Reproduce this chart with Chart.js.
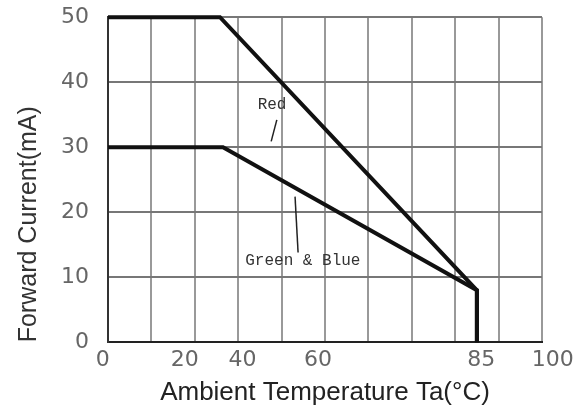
<!DOCTYPE html>
<html>
<head>
<meta charset="utf-8">
<script src="https://cdn.jsdelivr.net/npm/chart.js@4/dist/chart.umd.min.js"></script>
<style>
  html, body { margin: 0; padding: 0; background: #fff; }
  #wrap { width: 587px; height: 412px; }
</style>
</head>
<body>
<div id="wrap"><canvas id="derating"></canvas></div>
<script>
// derating curves (ambient temp in C, forward current in mA)
const redTemp = [0, 25.8, 85, 85];
const redCurrent = [50, 50, 8, 0];
const gbTemp = [0, 26.5, 85, 85];
const gbCurrent = [30, 30, 8, 0];

// x labels as printed in the source (they sit a bit off the grid there)
const xLabels = ['0', '20', '40', '60', '85', '100'];
const xLabelAt = [-1.2, 17.7, 31, 48.4, 86, 102.5];

// callout text + leader lines
const noteText = ['Red', 'Green & Blue'];
const noteTemp = [37.8, 44.9];
const noteCurrent = [36.5, 12.6];
const redLeaderTemp = [38.9, 37.6];
const redLeaderCurrent = [34.2, 30.9];
const gbLeaderTemp = [43.1, 43.8];
const gbLeaderCurrent = [22.4, 13.8];

const pts = (xs, ys) => xs.map((x, i) => ({ x: x, y: ys[i] }));

const notesPlugin = {
  id: 'notes',
  afterDatasetsDraw(chart) {
    const c = chart.ctx;
    const sx = chart.scales.x, sy = chart.scales.y;
    c.save();
    c.font = '16px "Liberation Mono"';
    c.fillStyle = '#333';
    c.textAlign = 'center';
    c.textBaseline = 'middle';
    noteText.forEach((t, i) => {
      c.fillText(t, sx.getPixelForValue(noteTemp[i]), sy.getPixelForValue(noteCurrent[i]));
    });
    c.restore();
  }
};

const ctx = document.getElementById('derating').getContext('2d');
const derating = new Chart(ctx, {
  type: 'scatter',
  data: {
    datasets: [
      {
        label: 'Red',
        data: pts(redTemp, redCurrent),
        showLine: true,
        borderColor: '#111',
        borderWidth: 4,
        pointRadius: 0,
        clip: false
      },
      {
        label: 'Green & Blue',
        data: pts(gbTemp, gbCurrent),
        showLine: true,
        borderColor: '#111',
        borderWidth: 4,
        pointRadius: 0,
        clip: false
      },
      {
        label: 'red leader',
        data: pts(redLeaderTemp, redLeaderCurrent),
        showLine: true,
        borderColor: '#222',
        borderWidth: 1.5,
        pointRadius: 0
      },
      {
        label: 'gb leader',
        data: pts(gbLeaderTemp, gbLeaderCurrent),
        showLine: true,
        borderColor: '#222',
        borderWidth: 1.5,
        pointRadius: 0
      }
    ]
  },
  options: {
    responsive: true,
    maintainAspectRatio: false,
    animation: false,
    layout: {
      padding: { left: 14, right: 45, top: 2, bottom: 6 }
    },
    plugins: {
      legend: { display: false },
      tooltip: { enabled: false }
    },
    scales: {
      x: {
        type: 'linear',
        position: 'bottom',
        min: 0,
        max: 100,
        ticks: { stepSize: 10, display: false, padding: 0 },
        grid: { color: '#999', lineWidth: 2, drawTicks: false },
        border: { color: '#222', width: 2 }
      },
      xl: {
        type: 'linear',
        position: 'bottom',
        min: 0,
        max: 100,
        afterBuildTicks: (axis) => {
          axis.ticks = xLabelAt.map(v => ({ value: v }));
        },
        ticks: {
          autoSkip: false,
          maxRotation: 0,
          padding: 5,
          color: '#666',
          font: { family: '"DejaVu Sans"', size: 22 },
          callback: (v, i) => xLabels[i]
        },
        grid: { display: false, drawTicks: false },
        border: { display: false },
        title: {
          display: true,
          text: 'Ambient Temperature Ta(°C)',
          color: '#222',
          font: { family: '"Liberation Sans"', size: 26, lineHeight: 1.05 },
          padding: { top: 0, bottom: 0 }
        }
      },
      y: {
        min: 0,
        max: 50,
        ticks: {
          stepSize: 10,
          padding: 4,
          color: '#666',
          font: { family: '"DejaVu Sans"', size: 22 }
        },
        grid: { color: '#777', lineWidth: 2, drawTicks: true, tickLength: 15, tickColor: 'rgba(0,0,0,0)' },
        border: { color: '#333', width: 2 },
        title: {
          display: true,
          text: 'Forward Current(mA)',
          align: 'start',
          color: '#333',
          font: { family: '"Liberation Sans"', size: 25 },
          padding: { top: 0, bottom: 13 }
        }
      }
    }
  },
  plugins: [notesPlugin]
});
</script>
</body>
</html>
